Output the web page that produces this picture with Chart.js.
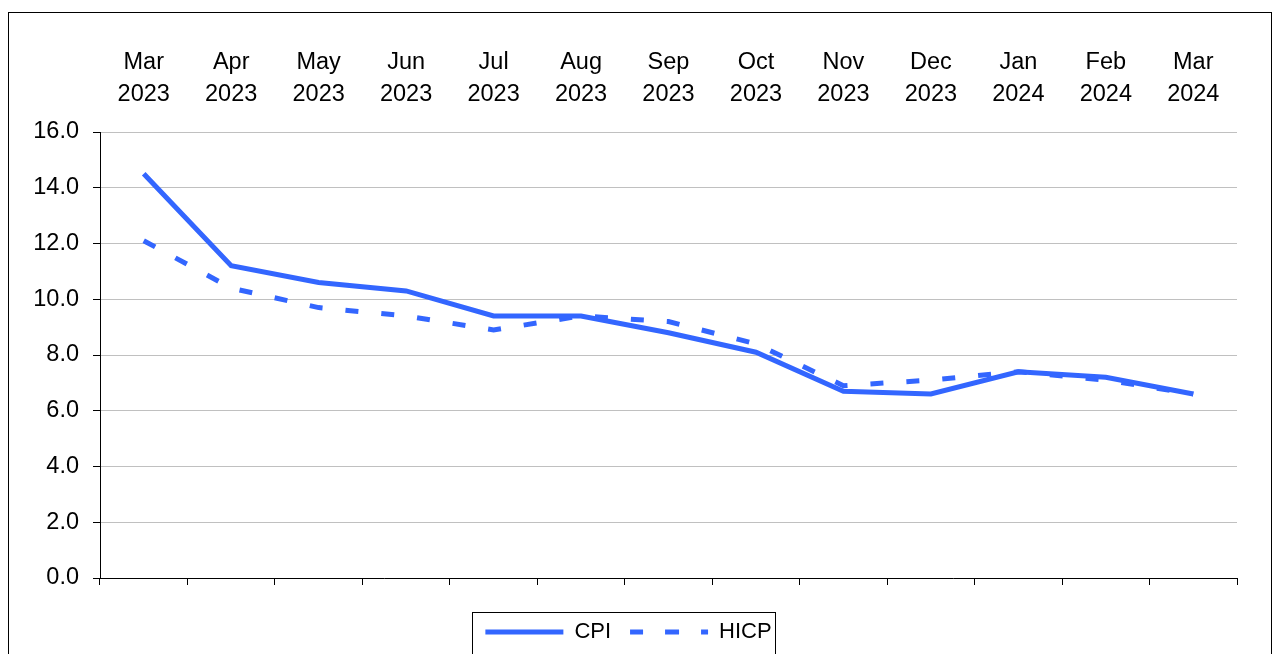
<!DOCTYPE html>
<html>
<head>
<meta charset="utf-8">
<script src="https://cdn.jsdelivr.net/npm/chart.js@4"></script>
<style>
  html, body { margin: 0; padding: 0; background: #fff; overflow: hidden; }
  #wrap { position: relative; width: 1275px; height: 654px; }
  canvas { display: block; }
</style>
</head>
<body>
<div id="wrap"><canvas id="c" width="1275" height="654"></canvas></div>
<script>
const months = ["Mar", "Apr", "May", "Jun", "Jul", "Aug", "Sep", "Oct", "Nov", "Dec", "Jan", "Feb", "Mar"];
const years = ["2023", "2023", "2023", "2023", "2023", "2023", "2023", "2023", "2023", "2023", "2024", "2024", "2024"];
const cpi = [14.5, 11.2, 10.6, 10.3, 9.4, 9.4, 8.8, 8.1, 6.7, 6.6, 7.4, 7.2, 6.6];
const hicp = [12.1, 10.4, 9.7, 9.4, 8.9, 9.4, 9.2, 8.4, 6.9, 7.1, 7.4, 7.1, 6.6];
const yTicks = [0, 2, 4, 6, 8, 10, 12, 14, 16];

const labels = months.map((m, i) => [m, years[i]]);
const FONT = "'Liberation Sans', Arial, sans-serif";
const BLUE = '#3366ff';

const framePlugin = {
  id: 'frame',
  afterDraw(chart) {
    const ctx = chart.ctx;
    ctx.save();
    ctx.strokeStyle = '#000';
    ctx.lineWidth = 1;
    ctx.setLineDash([]);
    ctx.strokeRect(8.5, 12.5, 1263, 700);
    const hb = chart.legend.legendHitBoxes;
    if (hb && hb.length) {
      const left = Math.round(hb[0].left - 13);
      const last = hb[hb.length - 1];
      const right = Math.round(last.left + last.width + 3);
      const top = Math.round(hb[0].top - 9);
      ctx.strokeRect(left + 0.5, top + 0.5, right - left, 100);
    }
    ctx.restore();
  }
};

new Chart(document.getElementById('c'), {
  type: 'line',
  data: {
    labels: labels,
    datasets: [
      { label: 'CPI', data: cpi, borderColor: BLUE, backgroundColor: BLUE, borderWidth: 5,
        pointRadius: 0, tension: 0, borderCapStyle: 'butt', xAxisID: 'x' },
      { label: 'HICP', data: hicp, borderColor: BLUE, backgroundColor: BLUE, borderWidth: 5,
        borderDash: [13, 23], pointRadius: 0, tension: 0, borderCapStyle: 'butt', xAxisID: 'x' }
    ]
  },
  options: {
    responsive: false,
    animation: false,
    devicePixelRatio: 1,
    layout: { padding: { left: 20, right: 38, top: 0, bottom: 1 } },
    plugins: {
      tooltip: { enabled: false },
      legend: {
        position: 'bottom',
        labels: {
          color: '#000',
          font: { family: FONT, size: 22 },
          usePointStyle: false,
          boxWidth: 78,
          boxHeight: 0,
          padding: 19
        }
      }
    },
    scales: {
      x: {
        type: 'category',
        position: 'bottom',
        offset: true,
        grid: { display: true, drawOnChartArea: false, offset: true, tickLength: 7, color: '#000', tickColor: '#000' },
        border: { display: true, color: '#000', width: 1 },
        ticks: { display: false },
        afterFit(s) { s.height = 24; }
      },
      xTop: {
        type: 'category',
        position: 'top',
        offset: true,
        labels: labels,
        grid: { display: false, drawTicks: false },
        border: { display: false },
        ticks: {
          color: '#000',
          font: { family: FONT, size: 23.5, lineHeight: 1.34 },
          padding: 22,
          maxRotation: 0,
          autoSkip: false
        },
        afterFit(s) { s.height = 132; }
      },
      y: {
        min: 0,
        max: 16,
        afterBuildTicks(s) { s.ticks = yTicks.map(v => ({ value: v })); },
        grid: { color: '#c0c0c0', tickColor: '#000', tickLength: 7, lineWidth: 1 },
        border: { display: true, color: '#000', width: 1 },
        ticks: {
          color: '#000',
          font: { family: FONT, size: 23.5 },
          padding: 14,
          callback: v => Number(v).toFixed(1)
        },
        afterFit(s) { s.width = 80; }
      }
    }
  },
  plugins: [framePlugin]
});
</script>
</body>
</html>
